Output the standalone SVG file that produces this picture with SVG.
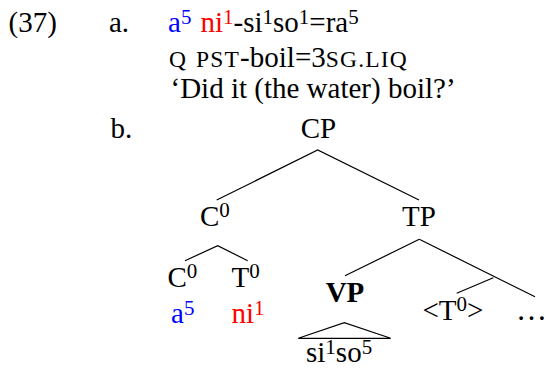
<svg xmlns="http://www.w3.org/2000/svg" width="546" height="371" viewBox="0 0 546 371">
<style>
text{font-family:"Liberation Serif","Times New Roman",serif;font-size:29px;fill:#000}
.sup{font-size:21px}
.sc{font-size:23.5px;letter-spacing:1.2px}
.blue{fill:#0000ff}
.red{fill:#ff0000}
.bold{font-weight:bold}
.edge{stroke:#000;stroke-width:1.2;fill:none}
</style>
<rect width="546" height="371" fill="#fff"/>
<g id="example-a">
<text x="8.6" y="32">(37)</text>
<text x="109" y="32">a.</text>
<text y="32"><tspan class="blue" x="168">a</tspan><tspan class="sup blue" dy="-8">5</tspan><tspan class="red" x="200.5" dy="8">ni</tspan><tspan class="sup red" dy="-8">1</tspan><tspan dy="8">-si</tspan><tspan class="sup" dy="-8">1</tspan><tspan dy="8">so</tspan><tspan class="sup" dy="-8">1</tspan><tspan dy="8">=ra</tspan><tspan class="sup" dy="-8">5</tspan></text>
<text y="67"><tspan class="sc" x="169">Q</tspan><tspan class="sc" x="196">PST</tspan><tspan>-boil=3</tspan><tspan class="sc">SG.LIQ</tspan></text>
<text x="170.5" y="98">‘Did it (the water) boil?’</text>
<text x="110.5" y="137.5">b.</text>
</g>
<g id="connectors">
<polyline class="edge" points="216.7,200 317.7,150 419,200"/>
<polyline class="edge" points="185,260.7 217.7,245.7 247.7,260.7"/>
<line class="edge" x1="419.3" y1="239.3" x2="345" y2="275.7"/>
<line class="edge" x1="419.3" y1="239.3" x2="535" y2="296.7"/>
<line class="edge" x1="493.3" y1="277.7" x2="456.7" y2="293.3"/>
<polygon class="edge" points="298.3,338.3 344.3,322.7 390.7,338.3"/>
</g>
<g id="node-CP"><text x="318.5" y="138" text-anchor="middle">CP</text></g>
<g id="node-C0"><text x="200" y="226">C<tspan class="sup" dy="-9">0</tspan></text></g>
<g id="node-TP"><text x="419" y="226" text-anchor="middle">TP</text></g>
<g id="node-C0-low"><text x="167.5" y="287">C<tspan class="sup" dy="-9">0</tspan></text>
<text y="323"><tspan class="blue" x="171">a</tspan><tspan class="sup blue" dy="-8">5</tspan></text></g>
<g id="node-T0"><text x="231.5" y="287">T<tspan class="sup" dy="-9">0</tspan></text>
<text y="323"><tspan class="red" x="231.5">ni</tspan><tspan class="sup red" dy="-8">1</tspan></text></g>
<g id="node-VP"><text class="bold" x="345" y="302" text-anchor="middle">VP</text>
<text y="361.5"><tspan x="306">si</tspan><tspan class="sup" dy="-8">1</tspan><tspan dy="8">so</tspan><tspan class="sup" dy="-8">5</tspan></text></g>
<g id="node-T0-trace"><text x="422.5" y="320">&lt;T<tspan class="sup" dy="-9">0</tspan><tspan dy="9">&gt;</tspan></text></g>
<g id="node-dots"><text x="516" y="320" style="font-size:31px">…</text></g>
</svg>
